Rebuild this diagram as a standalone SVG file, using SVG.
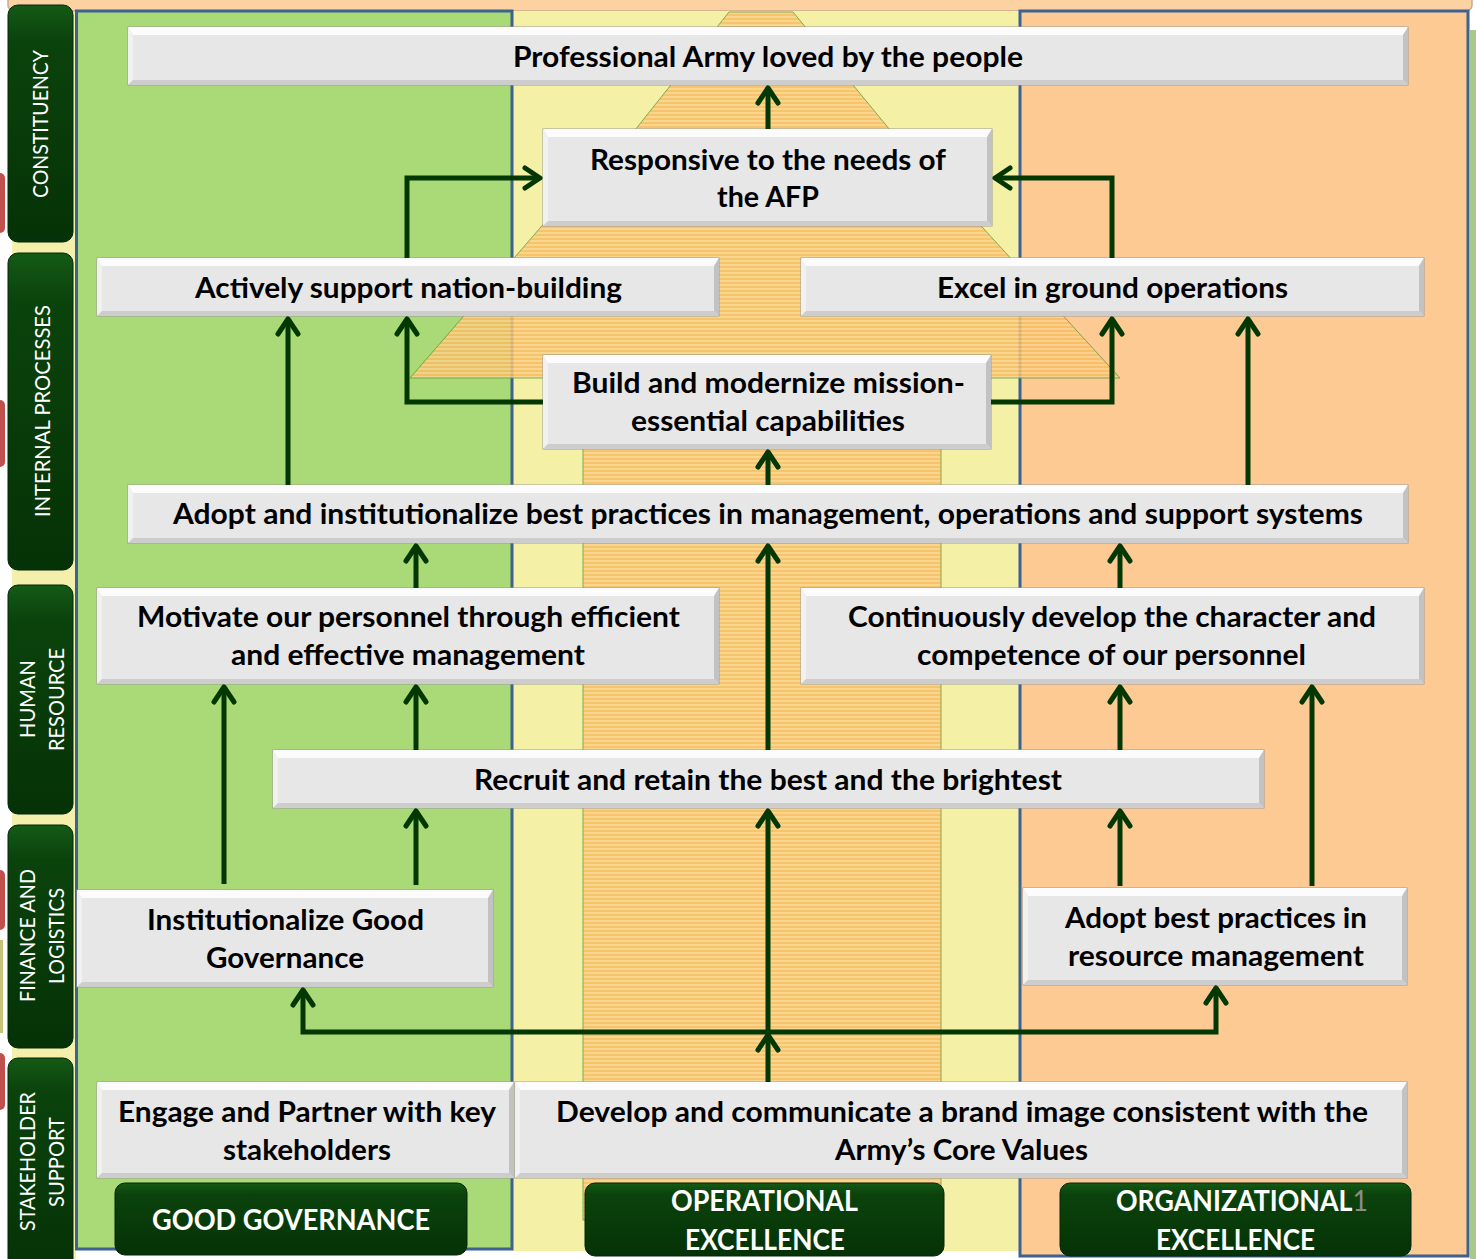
<svg xmlns="http://www.w3.org/2000/svg" width="1476" height="1259" viewBox="0 0 1476 1259">
<defs>
<style>
.face{fill:#e7e7e7;stroke:#9c9c9c;stroke-width:1}
.bt{fill:#fcfcfc}
.bl{fill:#f1f1f1}
.br{fill:#c2c2c2}
.bb{fill:#cdcdcd}
.t{font-family:Lato,"Open Sans","Liberation Sans",sans-serif;font-weight:700;font-size:28px;fill:#000;text-anchor:middle}
.lab{font-family:Lato,"Open Sans","Liberation Sans",sans-serif;font-weight:700;font-size:28px;fill:#fff;text-anchor:middle}
.side{font-family:Lato,"Open Sans","Liberation Sans",sans-serif;font-weight:400;font-size:21px;fill:#fff;text-anchor:middle}
.dg{fill:url(#dgGrad);stroke:#03260a;stroke-width:1}
.con{fill:none;stroke:#033803;stroke-width:5;stroke-linejoin:miter}
</style>
<linearGradient id="dgGrad" x1="0" y1="0" x2="0" y2="1">
<stop offset="0" stop-color="#145a16"/>
<stop offset="0.15" stop-color="#0b430c"/>
<stop offset="1" stop-color="#053206"/>
</linearGradient>
<pattern id="stripes" patternUnits="userSpaceOnUse" width="8" height="4">
<rect width="8" height="4" fill="#f8bd62"/>
<rect width="8" height="2" fill="#fbd28c"/>
</pattern>
<marker id="arr" markerUnits="userSpaceOnUse" viewBox="-20 -15 25 30" markerWidth="25" markerHeight="30" refX="0" refY="0" orient="auto" overflow="visible">
<path d="M-15,-10 L0,0 L-15,10" fill="none" stroke="#033803" stroke-width="5" stroke-linecap="round" stroke-linejoin="round"/>
</marker>
</defs>

<g id="background">
<rect x="0" y="0" width="1476" height="1259" fill="#ffffff"/>
<rect x="-5" y="173" width="10" height="60" rx="5" fill="#c0504d"/>
<rect x="-5" y="400" width="10" height="67" rx="5" fill="#c0504d"/>
<rect x="-5" y="870" width="10" height="60" rx="5" fill="#c0504d"/>
<rect x="-5" y="940" width="8" height="93" fill="#c9c27a"/>
<rect x="-5" y="1053" width="10" height="57" rx="5" fill="#c0504d"/>
<rect x="12" y="0" width="64" height="1259" fill="#f4efaa"/>
<rect x="1470" y="30" width="6" height="1229" fill="#a8c98a"/>
<rect x="8" y="-20" width="1464" height="31" rx="6" fill="#fdd2a3" stroke="#c9ab8b" stroke-width="1.5"/>
<rect x="512" y="11" width="508" height="1240" fill="#f4f1a7"/>
<rect x="1020" y="11" width="448" height="1245" fill="#fdca94" stroke="#3d6190" stroke-width="3"/>
<rect x="76.5" y="11" width="435.5" height="1238" fill="#aad977" stroke="#3d6190" stroke-width="3"/>
</g>

<g id="tree" opacity="0.85">
<polygon points="729,12 793,12 890,130 635,130" fill="url(#stripes)" stroke="#6f9e3c" stroke-width="1"/>
<polygon points="560,205 962,205 1120,378 410,378" fill="url(#stripes)" stroke="#6f9e3c" stroke-width="1"/>
<rect x="583" y="378" width="358" height="842" fill="url(#stripes)" stroke="#6f9e3c" stroke-width="1"/>
</g>

<g id="sidebar">
<g id="side-constituency">
<rect class="dg" x="8" y="5" width="65" height="237" rx="10"/>
<text class="side" transform="translate(48,124) rotate(-90)" textLength="148" lengthAdjust="spacingAndGlyphs">CONSTITUENCY</text>
</g>
<g id="side-internal">
<rect class="dg" x="8" y="253" width="65" height="317" rx="10"/>
<text class="side" transform="translate(50,411) rotate(-90)" textLength="212" lengthAdjust="spacingAndGlyphs">INTERNAL PROCESSES</text>
</g>
<g id="side-human">
<rect class="dg" x="8" y="585" width="65" height="229" rx="10"/>
<text class="side" transform="translate(35,699) rotate(-90)" textLength="78" lengthAdjust="spacingAndGlyphs">HUMAN</text>
<text class="side" transform="translate(64,699.5) rotate(-90)" textLength="103" lengthAdjust="spacingAndGlyphs">RESOURCE</text>
</g>
<g id="side-finance">
<rect class="dg" x="8" y="825" width="65" height="223" rx="10"/>
<text class="side" transform="translate(35,935.5) rotate(-90)" textLength="133" lengthAdjust="spacingAndGlyphs">FINANCE AND</text>
<text class="side" transform="translate(64,936) rotate(-90)" textLength="96" lengthAdjust="spacingAndGlyphs">LOGISTICS</text>
</g>
<g id="side-stakeholder">
<rect class="dg" x="8" y="1058" width="65" height="215" rx="10"/>
<text class="side" transform="translate(35,1161.5) rotate(-90)" textLength="139" lengthAdjust="spacingAndGlyphs">STAKEHOLDER</text>
<text class="side" transform="translate(64,1162) rotate(-90)" textLength="90" lengthAdjust="spacingAndGlyphs">SUPPORT</text>
</g>
</g>

<g id="nodes">
<g id="n-professional">
<rect class="face" x="128" y="27" width="1280" height="58"/>
<polygon class="bt" points="128,27 1408,27 1403,35 133,35"/>
<polygon class="bl" points="128,27 133,35 133,80 128,85"/>
<polygon class="br" points="1408,27 1408,85 1403,80 1403,35"/>
<polygon class="bb" points="128,85 1408,85 1403,80 133,80"/>
<text class="t" x="768" y="67" textLength="510" lengthAdjust="spacingAndGlyphs">Professional Army loved by the people</text>
</g>
<g id="n-responsive">
<rect class="face" x="543" y="129" width="449" height="97"/>
<polygon class="bt" points="543,129 992,129 987,137 548,137"/>
<polygon class="bl" points="543,129 548,137 548,221 543,226"/>
<polygon class="br" points="992,129 992,226 987,221 987,137"/>
<polygon class="bb" points="543,226 992,226 987,221 548,221"/>
<text class="t" x="768" y="170" textLength="356" lengthAdjust="spacingAndGlyphs">Responsive to the needs of</text>
<text class="t" x="768" y="207" textLength="102" lengthAdjust="spacingAndGlyphs">the AFP</text>
</g>
<g id="n-nation">
<rect class="face" x="97" y="258" width="622" height="58"/>
<polygon class="bt" points="97,258 719,258 714,266 102,266"/>
<polygon class="bl" points="97,258 102,266 102,311 97,316"/>
<polygon class="br" points="719,258 719,316 714,311 714,266"/>
<polygon class="bb" points="97,316 719,316 714,311 102,311"/>
<text class="t" x="408.5" y="298" textLength="427" lengthAdjust="spacingAndGlyphs">Actively support nation-building</text>
</g>
<g id="n-ground">
<rect class="face" x="801" y="258" width="623" height="58"/>
<polygon class="bt" points="801,258 1424,258 1419,266 806,266"/>
<polygon class="bl" points="801,258 806,266 806,311 801,316"/>
<polygon class="br" points="1424,258 1424,316 1419,311 1419,266"/>
<polygon class="bb" points="801,316 1424,316 1419,311 806,311"/>
<text class="t" x="1112.5" y="298" textLength="351" lengthAdjust="spacingAndGlyphs">Excel in ground operations</text>
</g>
<g id="n-build">
<rect class="face" x="543" y="355" width="448" height="94"/>
<polygon class="bt" points="543,355 991,355 986,363 548,363"/>
<polygon class="bl" points="543,355 548,363 548,444 543,449"/>
<polygon class="br" points="991,355 991,449 986,444 986,363"/>
<polygon class="bb" points="543,449 991,449 986,444 548,444"/>
<text class="t" x="768.5" y="393" textLength="393" lengthAdjust="spacingAndGlyphs">Build and modernize mission-</text>
<text class="t" x="768" y="431" textLength="274" lengthAdjust="spacingAndGlyphs">essential capabilities</text>
</g>
<g id="n-bestpractices">
<rect class="face" x="128" y="485" width="1280" height="58"/>
<polygon class="bt" points="128,485 1408,485 1403,493 133,493"/>
<polygon class="bl" points="128,485 133,493 133,538 128,543"/>
<polygon class="br" points="1408,485 1408,543 1403,538 1403,493"/>
<polygon class="bb" points="128,543 1408,543 1403,538 133,538"/>
<text class="t" x="768" y="524" textLength="1190" lengthAdjust="spacingAndGlyphs">Adopt and institutionalize best practices in management, operations and support systems</text>
</g>
<g id="n-motivate">
<rect class="face" x="97" y="588" width="622" height="96"/>
<polygon class="bt" points="97,588 719,588 714,596 102,596"/>
<polygon class="bl" points="97,588 102,596 102,679 97,684"/>
<polygon class="br" points="719,588 719,684 714,679 714,596"/>
<polygon class="bb" points="97,684 719,684 714,679 102,679"/>
<text class="t" x="408.5" y="627" textLength="543" lengthAdjust="spacingAndGlyphs">Motivate our personnel through efficient</text>
<text class="t" x="408" y="665" textLength="354" lengthAdjust="spacingAndGlyphs">and effective management</text>
</g>
<g id="n-character">
<rect class="face" x="801" y="588" width="623" height="96"/>
<polygon class="bt" points="801,588 1424,588 1419,596 806,596"/>
<polygon class="bl" points="801,588 806,596 806,679 801,684"/>
<polygon class="br" points="1424,588 1424,684 1419,679 1419,596"/>
<polygon class="bb" points="801,684 1424,684 1419,679 806,679"/>
<text class="t" x="1112" y="627" textLength="528" lengthAdjust="spacingAndGlyphs">Continuously develop the character and</text>
<text class="t" x="1111.5" y="665" textLength="389" lengthAdjust="spacingAndGlyphs">competence of our personnel</text>
</g>
<g id="n-recruit">
<rect class="face" x="273" y="750" width="991" height="58"/>
<polygon class="bt" points="273,750 1264,750 1259,758 278,758"/>
<polygon class="bl" points="273,750 278,758 278,803 273,808"/>
<polygon class="br" points="1264,750 1264,808 1259,803 1259,758"/>
<polygon class="bb" points="273,808 1264,808 1259,803 278,803"/>
<text class="t" x="768" y="790" textLength="588" lengthAdjust="spacingAndGlyphs">Recruit and retain the best and the brightest</text>
</g>
<g id="n-governance">
<rect class="face" x="77" y="890" width="416" height="97"/>
<polygon class="bt" points="77,890 493,890 488,898 82,898"/>
<polygon class="bl" points="77,890 82,898 82,982 77,987"/>
<polygon class="br" points="493,890 493,987 488,982 488,898"/>
<polygon class="bb" points="77,987 493,987 488,982 82,982"/>
<text class="t" x="285.5" y="930" textLength="277" lengthAdjust="spacingAndGlyphs">Institutionalize Good</text>
<text class="t" x="285" y="968" textLength="158" lengthAdjust="spacingAndGlyphs">Governance</text>
</g>
<g id="n-resource">
<rect class="face" x="1023" y="888" width="384" height="97"/>
<polygon class="bt" points="1023,888 1407,888 1402,896 1028,896"/>
<polygon class="bl" points="1023,888 1028,896 1028,980 1023,985"/>
<polygon class="br" points="1407,888 1407,985 1402,980 1402,896"/>
<polygon class="bb" points="1023,985 1407,985 1402,980 1028,980"/>
<text class="t" x="1216" y="928" textLength="302" lengthAdjust="spacingAndGlyphs">Adopt best practices in</text>
<text class="t" x="1216" y="966" textLength="296" lengthAdjust="spacingAndGlyphs">resource management</text>
</g>
<g id="n-engage">
<rect class="face" x="97" y="1082" width="417" height="96"/>
<polygon class="bt" points="97,1082 514,1082 509,1090 102,1090"/>
<polygon class="bl" points="97,1082 102,1090 102,1173 97,1178"/>
<polygon class="br" points="514,1082 514,1178 509,1173 509,1090"/>
<polygon class="bb" points="97,1178 514,1178 509,1173 102,1173"/>
<text class="t" x="307" y="1122" textLength="378" lengthAdjust="spacingAndGlyphs">Engage and Partner with key</text>
<text class="t" x="307" y="1160" textLength="168" lengthAdjust="spacingAndGlyphs">stakeholders</text>
</g>
<g id="n-brand">
<rect class="face" x="515" y="1082" width="892" height="96"/>
<polygon class="bt" points="515,1082 1407,1082 1402,1090 520,1090"/>
<polygon class="bl" points="515,1082 520,1090 520,1173 515,1178"/>
<polygon class="br" points="1407,1082 1407,1178 1402,1173 1402,1090"/>
<polygon class="bb" points="515,1178 1407,1178 1402,1173 520,1173"/>
<text class="t" x="962" y="1122" textLength="812" lengthAdjust="spacingAndGlyphs">Develop and communicate a brand image consistent with the</text>
<text class="t" x="961.5" y="1160" textLength="253" lengthAdjust="spacingAndGlyphs">Army’s Core Values</text>
</g>
</g>

<g id="categories">
<g id="c-good">
<rect class="dg" x="115" y="1183" width="352" height="72" rx="10"/>
<text class="lab" x="291" y="1230" textLength="278" lengthAdjust="spacingAndGlyphs">GOOD GOVERNANCE</text>
</g>
<g id="c-operational">
<rect class="dg" x="585" y="1183" width="359" height="73" rx="10"/>
<text class="lab" x="764.5" y="1211" textLength="187" lengthAdjust="spacingAndGlyphs">OPERATIONAL</text>
<text class="lab" x="765" y="1250" textLength="160" lengthAdjust="spacingAndGlyphs">EXCELLENCE</text>
</g>
<g id="c-organizational">
<rect class="dg" x="1060" y="1183" width="351" height="73" rx="10"/>
<text class="lab" x="1242" y="1211" textLength="252" lengthAdjust="spacingAndGlyphs">ORGANIZATIONAL<tspan style="fill:#8c8c8c;font-weight:400">1</tspan></text>
<text class="lab" x="1235.5" y="1250" textLength="159" lengthAdjust="spacingAndGlyphs">EXCELLENCE</text>
</g>
</g>

<g id="connectors">
<path class="con" d="M768,129 V88" marker-end="url(#arr)"/>
<path class="con" d="M407,258 V178 H540" marker-end="url(#arr)"/>
<path class="con" d="M1112,258 V178 H995" marker-end="url(#arr)"/>
<path class="con" d="M543,402 H407 V319" marker-end="url(#arr)"/>
<path class="con" d="M991,402 H1112 V319" marker-end="url(#arr)"/>
<path class="con" d="M288,485 V319" marker-end="url(#arr)"/>
<path class="con" d="M1248,485 V319" marker-end="url(#arr)"/>
<path class="con" d="M768,485 V452" marker-end="url(#arr)"/>
<path class="con" d="M416,588 V546" marker-end="url(#arr)"/>
<path class="con" d="M1120,588 V546" marker-end="url(#arr)"/>
<path class="con" d="M768,750 V546" marker-end="url(#arr)"/>
<path class="con" d="M416,750 V687" marker-end="url(#arr)"/>
<path class="con" d="M1120,750 V687" marker-end="url(#arr)"/>
<path class="con" d="M224,884 V687" marker-end="url(#arr)"/>
<path class="con" d="M416,885 V811" marker-end="url(#arr)"/>
<path class="con" d="M1120,886 V811" marker-end="url(#arr)"/>
<path class="con" d="M1312,886 V687" marker-end="url(#arr)"/>
<path class="con" d="M768,1034 V811" marker-end="url(#arr)"/>
<path class="con" d="M768,1082 V1035" marker-end="url(#arr)"/>
<path class="con" d="M768,1032 H303 V990" marker-end="url(#arr)"/>
<path class="con" d="M768,1032 H1216 V988" marker-end="url(#arr)"/>
</g>
</svg>
